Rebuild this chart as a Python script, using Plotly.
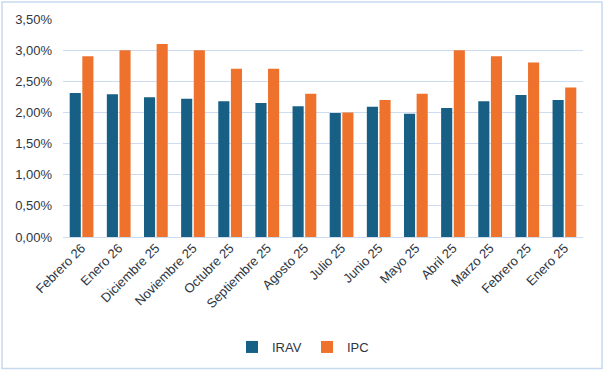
import plotly.graph_objects as go

categories = ["Febrero 26", "Enero 26", "Diciembre 25", "Noviembre 25", "Octubre 25",
              "Septiembre 25", "Agosto 25", "Julio 25", "Junio 25", "Mayo 25",
              "Abril 25", "Marzo 25", "Febrero 25", "Enero 25"]
irav = [2.31, 2.29, 2.245, 2.22, 2.18, 2.15, 2.10, 1.99, 2.09, 1.98, 2.07, 2.18, 2.28, 2.20]
ipc = [2.9, 3.0, 3.1, 3.0, 2.7, 2.7, 2.3, 2.0, 2.2, 2.3, 3.0, 2.9, 2.8, 2.4]
y_ticks = [0, 0.005, 0.01, 0.015, 0.02, 0.025, 0.03, 0.035]

W, H = 605, 373
ml, mr, mt, mb = 63, 22, 19, 135
pw, ph = W - ml - mr, H - mt - mb

fig = go.Figure()
fig.add_trace(go.Bar(name="IRAV", x=categories, y=[v / 100 for v in irav],
                     marker=dict(color="#175f84", line=dict(width=0))))
fig.add_trace(go.Bar(name="IPC", x=categories, y=[v / 100 for v in ipc],
                     marker=dict(color="#ee712c", line=dict(width=0))))

font_color = "#2e3642"
fig.update_layout(
    width=W, height=H,
    margin=dict(l=ml, r=mr, t=mt, b=mb, pad=0),
    paper_bgcolor="white", plot_bgcolor="white",
    separators=",.",
    barmode="group", bargap=0.32, bargroupgap=0.12,
    font=dict(family="Liberation Sans, Arial, sans-serif", size=13, color=font_color),
    showlegend=True,
    legend=dict(orientation="h", x=(232 - ml) / pw, xanchor="left",
                y=(mt + ph - 347) / ph, yanchor="middle",
                font=dict(size=13, color=font_color),
                entrywidth=30, entrywidthmode="pixels",
                itemwidth=30, traceorder="normal"),
    xaxis=dict(tickangle=-45, showgrid=False, showline=False, ticks="",
               tickfont=dict(size=13, color=font_color)),
    yaxis=dict(range=[0, 0.035], tickvals=y_ticks, tickformat=".2%",
               showgrid=True, gridcolor="#cddcf0", gridwidth=1,
               zeroline=True, zerolinecolor="#cddcf0", zerolinewidth=1,
               showline=False, ticks="", ticklen=0, ticklabelstandoff=10,
               tickfont=dict(size=13, color=font_color)),
)

# light blue outer border of the chart area
fig.add_shape(type="rect", xref="paper", yref="paper",
              x0=(2 - ml) / pw, x1=(602 - ml) / pw,
              y0=(mt + ph - 370) / ph, y1=(mt + ph - 2) / ph,
              line=dict(color="#c6d9ef", width=1.5), fillcolor="rgba(0,0,0,0)",
              layer="below")

fig.write_html("out.html", config={"displayModeBar": False},
               post_script="document.body.style.margin='0';")
